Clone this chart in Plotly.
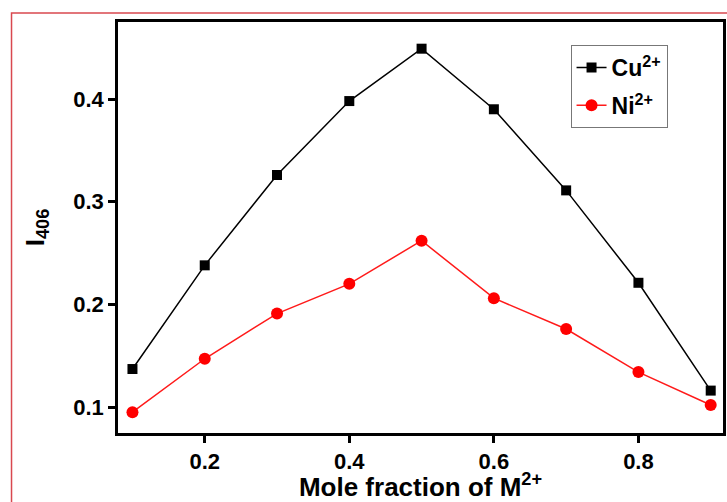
import plotly.graph_objects as go

mole_fraction = [0.1, 0.2, 0.3, 0.4, 0.5, 0.6, 0.7, 0.8, 0.9]
cu_values = [0.137, 0.238, 0.326, 0.398, 0.449, 0.390, 0.311, 0.221, 0.116]
ni_values = [0.095, 0.147, 0.191, 0.220, 0.262, 0.206, 0.176, 0.134, 0.102]
x_ticks = [0.2, 0.4, 0.6, 0.8]
y_ticks = [0.1, 0.2, 0.3, 0.4]

FONT = "Liberation Sans, Arial, sans-serif"

fig = go.Figure()
fig.add_trace(go.Scatter(
    x=mole_fraction, y=cu_values, mode="lines+markers",
    name="<b>Cu<sup>2+</sup></b>", legendgroup="cu",
    line=dict(color="black", width=1.5),
    marker=dict(symbol="square", size=10, color="black"),
))
fig.add_trace(go.Scatter(
    x=mole_fraction, y=ni_values, mode="lines+markers",
    name="<b>Ni<sup>2+</sup></b>", legendgroup="ni",
    line=dict(color="#ff1a1a", width=1.5),
    marker=dict(symbol="circle", size=12, color="#ff0000"),
))

axis_common = dict(
    showline=True, linecolor="black", linewidth=2.5, mirror=True,
    ticks="outside", ticklen=7, tickwidth=2.5, tickcolor="black",
    showgrid=False, zeroline=False,
    tickfont=dict(family=FONT, size=22, color="black"),
)

fig.update_layout(
    width=727, height=502,
    margin=dict(l=118, r=1, t=22, b=69),
    paper_bgcolor="white", plot_bgcolor="white",
    showlegend=True,
    legend=dict(
        x=0.748, y=0.944, xanchor="left", yanchor="top",
        bordercolor="#777777", borderwidth=1, bgcolor="white",
        font=dict(family=FONT, size=23, color="black"),
        traceorder="grouped", tracegroupgap=5,
        entrywidth=78, entrywidthmode="pixels",
    ),
    xaxis=dict(range=[0.08, 0.917], tickvals=x_ticks,
               ticktext=[f"<b>{v:.1f}</b>" for v in x_ticks],
               title=dict(text="<b>Mole fraction of M<sup>2+</sup></b>",
                          font=dict(family=FONT, size=26, color="black"),
                          standoff=6),
               **axis_common),
    yaxis=dict(range=[0.0747, 0.475], tickvals=y_ticks,
               ticktext=[f"<b>{v:.1f}</b>" for v in y_ticks],
               title=dict(text="<b>I<sub>406</sub></b>",
                          font=dict(family=FONT, size=26, color="black"),
                          standoff=22),
               **axis_common),
)

fig.add_shape(type="rect", xref="paper", yref="paper",
              x0=-0.176, x1=1.2, y0=-0.4, y1=1.0219,
              line=dict(color="#d9484f", width=1.5), fillcolor="rgba(0,0,0,0)",
              layer="below")

fig.write_html("out.html")
